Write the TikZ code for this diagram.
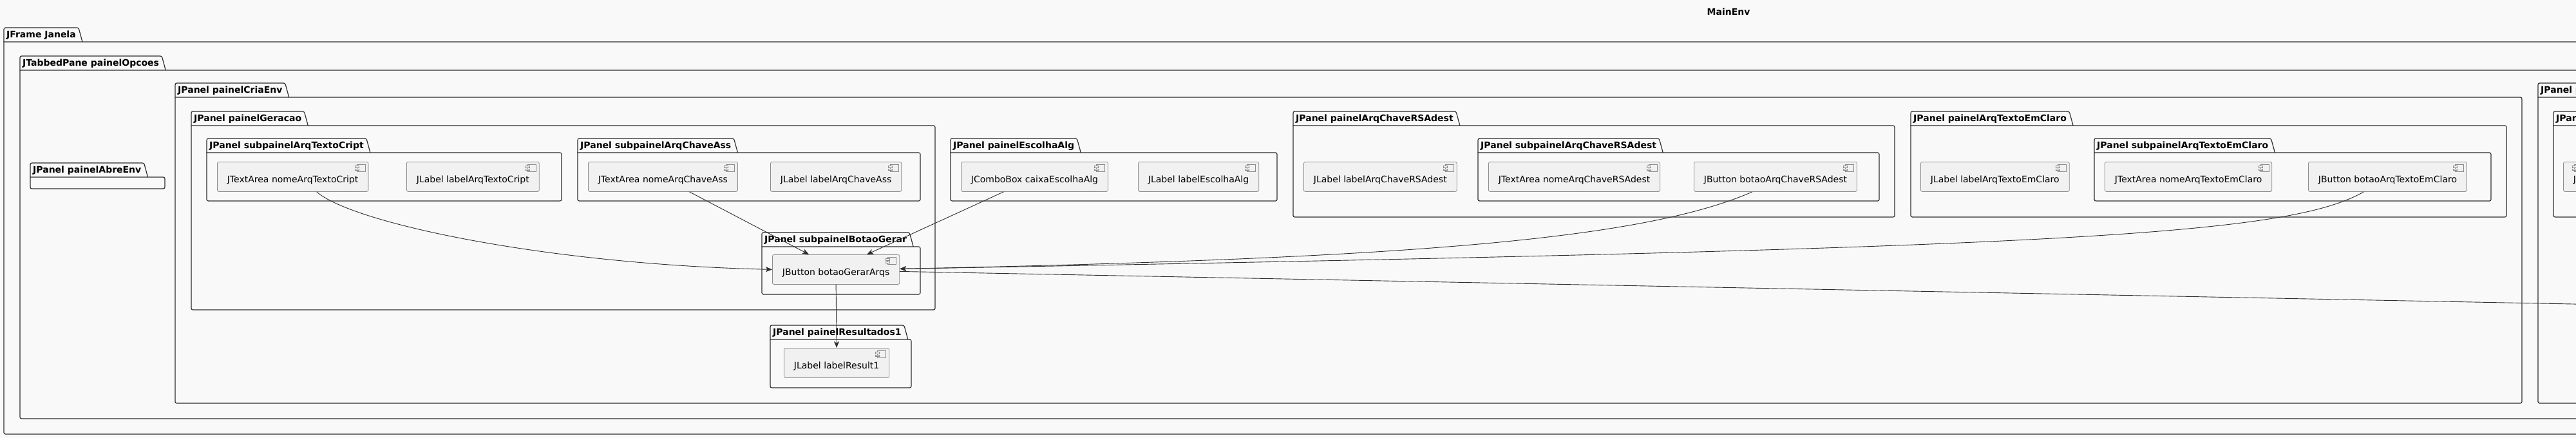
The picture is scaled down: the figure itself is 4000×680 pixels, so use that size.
\documentclass[tikz,border=0pt]{standalone}
\usepackage{fontspec}
\setmainfont{DejaVu Sans}
\usetikzlibrary{arrows.meta,calc}

\definecolor{fundo}{HTML}{F9F9F9}
\definecolor{compfill}{HTML}{F1F1F1}
\definecolor{compline}{HTML}{8C8C8C}
\definecolor{linha}{HTML}{2E2E2E}

% package: name, left, tab top, right, bottom, title
\newcommand{\pacote}[6]{%
  \coordinate (#1tl) at (#2,#3);
  \node[pkgtitle, anchor=base west] (#1) at (#2+4,#3+15.5) {#6};
  \draw[pkgline, rounded corners=2.5pt] (#2,#3+22) -- (#1tl) -- ($(#1.east |- #1tl)+(4pt,0)$) -- ($(#1.east |- #1tl)+(10pt,22)$);
  \draw[pkgline] (#2,#3+22) [rounded corners=2.5pt] -- (#4,#3+22) -- (#4,#5) -- (#2,#5) [sharp corners] -- cycle;
}

\begin{document}
\begin{tikzpicture}[x=1pt, y=-1pt,
    pkgtitle/.style={inner sep=0pt, font=\bfseries\fontsize{14pt}{16pt}\selectfont},
    pkgline/.style={draw=linha, line width=1.2pt},
    comp/.style={draw=compline, fill=compfill, line width=0.8pt, rounded corners=2.5pt,
      inner xsep=15.5pt, inner ysep=0pt, text height=32pt, text depth=14pt,
      font=\fontsize{14pt}{16pt}\selectfont,
      path picture={
        \draw[compline, line width=0.6pt, sharp corners] ([shift={(-18pt,-4pt)}]path picture bounding box.north east) rectangle ++(13pt,-11pt);
        \draw[compline, fill=compfill, line width=0.6pt, sharp corners] ([shift={(-21pt,-6pt)}]path picture bounding box.north east) rectangle ++(6pt,-2.5pt);
        \draw[compline, fill=compfill, line width=0.6pt, sharp corners] ([shift={(-21pt,-10.5pt)}]path picture bounding box.north east) rectangle ++(6pt,-2.5pt);
      }},
    seta/.style={draw=linha, line width=0.9pt, -{Stealth[length=10pt, width=8pt, inset=2.5pt]}}]

    \useasboundingbox (0,0) rectangle (4000,680);
    \clip (0,0) rectangle (4000,680);
    \fill[fundo] (0,0) rectangle (4000,680);

    \node[pkgtitle, anchor=base] (mainenv) at (2684,23.5) {MainEnv};

    \pacote{janela}{6}{43}{4200}{674}{JFrame Janela}
    \pacote{opcoes}{31}{87}{4150}{650}{JTabbedPane painelOpcoes}
    \pacote{abreenv}{47}{253}{256}{293}{JPanel painelAbreEnv}
    \pacote{criaenv}{272}{129}{3916}{626}{JPanel painelCriaEnv}
    \pacote{geracao}{297}{173}{1452}{481}{JPanel painelGeracao}
    \pacote{subtextocript}{321}{215}{872}{312}{JPanel subpainelArqTextoCript}
    \pacote{subchaveass}{897}{215}{1429}{312}{JPanel subpainelArqChaveAss}
    \pacote{escolhaalg}{1476}{215}{1983}{312}{JPanel painelEscolhaAlg}
    \pacote{subbotaogerar}{1183}{361}{1429}{457}{JPanel subpainelBotaoGerar}
    \pacote{resultados}{1196}{505}{1415}{602}{JPanel painelResultados1}
    \pacote{chaversa}{2008}{173}{2942}{337}{JPanel painelArqChaveRSAdest}
    \pacote{subchaversa}{2295}{215}{2918}{312}{JPanel subpainelArqChaveRSAdest}
    \pacote{textoclaro}{2967}{173}{3892}{337}{JPanel painelArqTextoEmClaro}
    \pacote{subtextoclaro}{3252}{215}{3868}{312}{JPanel subpainelArqTextoEmClaro}
    \pacote{cortado}{3941}{129}{4150}{626}{JPanel p}
    \pacote{cortadosub}{3965}{173}{4100}{337}{JPanel}

    % components
    \node[comp, anchor=north west] (nometextocript) at (337,251) {JTextArea nomeArqTextoCript\hspace{10pt}};
    \node[comp, anchor=north west] (labeltextocript) at (631,251) {JLabel labelArqTextoCript\hspace{10pt}};
    \node[comp, anchor=north west] (nomechaveass) at (913,251) {JTextArea nomeArqChaveAss\hspace{10pt}};
    \node[comp, anchor=north west] (labelchaveass) at (1196,251) {JLabel labelArqChaveAss\hspace{10pt}};
    \node[comp, anchor=north west] (caixaalg) at (1492,251) {JComboBox caixaEscolhaAlg\hspace{10pt}};
    \node[comp, anchor=north west] (labelalg) at (1767,251) {JLabel labelEscolhaAlg\hspace{10pt}};
    \node[comp, anchor=north west] (botaogerar) at (1199,395) {JButton botaoGerarArqs\hspace{10pt}};
    \node[comp, anchor=north west] (labelresult) at (1217,540) {JLabel labelResult1\hspace{10pt}};
    \node[comp, anchor=north west] (labelchaversa) at (2024,251) {JLabel labelArqChaveRSAdest\hspace{10pt}};
    \node[comp, anchor=north west] (nomechaversa) at (2311,251) {JTextArea nomeArqChaveRSAdest\hspace{10pt}};
    \node[comp, anchor=north west] (botaochaversa) at (2630,251) {JButton botaoArqChaveRSAdest\hspace{10pt}};
    \node[comp, anchor=north west] (labeltextoclaro) at (2982,251) {JLabel labelArqTextoEmClaro\hspace{10pt}};
    \node[comp, anchor=north west] (nometextoclaro) at (3268,251) {JTextArea nomeArqTextoEmClaro\hspace{10pt}};
    \node[comp, anchor=north west] (botaotextoclaro) at (3584,251) {JButton botaoArqTextoEmClaro\hspace{10pt}};
    \node[comp, anchor=north west] (cortadocomp) at (3980,251) {J\hspace{90pt}};

    \coordinate (saida) at (4200,476);

    % connectors
    \draw[seta] ([xshift=37pt]nometextocript.south) .. controls +(56,49) and +(-349,-8) .. (botaogerar.west);
    \draw[seta] ([xshift=41pt]nomechaveass.south) -- ([xshift=-42pt]botaogerar.north);
    \draw[seta] ([xshift=-48pt]caixaalg.south) -- ([xshift=48pt]botaogerar.north);
    \draw[seta] ([xshift=-36pt]botaochaversa.south) .. controls +(-169,74) and +(789,-16) .. ([yshift=1pt]botaogerar.east);
    \draw[seta] ([xshift=-37pt]botaotextoclaro.south) .. controls +(-121,69) and +(1789,-32) .. ([yshift=1pt]botaogerar.east);
    \draw[seta] ([yshift=-3pt]botaogerar.east) -- (saida);
    \draw[seta] (botaogerar.south) -- (labelresult.north);

\end{tikzpicture}
\end{document}
